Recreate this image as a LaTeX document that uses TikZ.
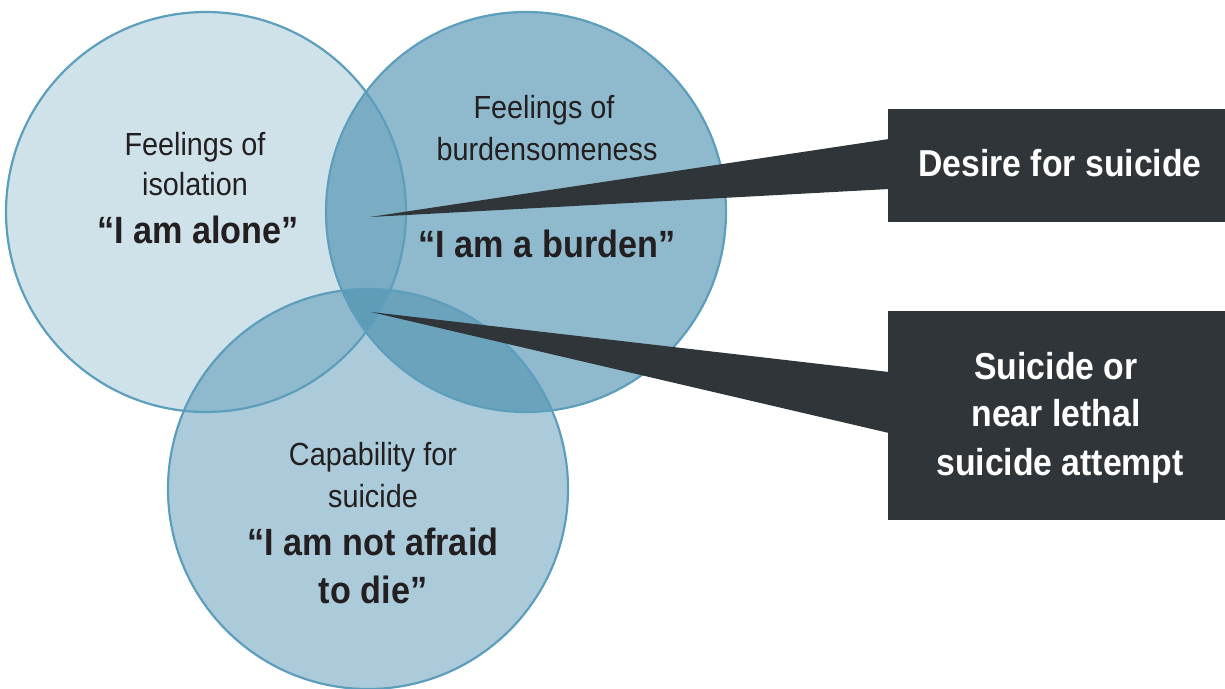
\documentclass[tikz,border=0pt]{standalone}
\usepackage{fontspec}
\setmainfont{Liberation Sans}[FakeStretch=0.9]
\definecolor{basecol}{RGB}{56,132,166}
\definecolor{edgecol}{RGB}{92,158,188}
\definecolor{darkbox}{RGB}{47,53,56}
\definecolor{txt}{RGB}{35,31,32}
\begin{document}
\begin{tikzpicture}[x=1pt,y=-1pt,
  venn/.style={circle,minimum size=400pt,inner sep=0pt,draw=edgecol,line width=2.2pt},
  small/.style={font=\fontsize{32}{40}\selectfont,text=txt,align=center,inner sep=0pt},
  big/.style={font=\fontsize{38}{48}\selectfont\bfseries,text=txt,align=center,inner sep=0pt},
  boxtxt/.style={font=\fontsize{37.5}{47}\selectfont\bfseries,text=white,align=center,inner sep=0pt},
  darkrect/.style={rectangle,fill=darkbox,inner sep=0pt,minimum width=337pt}
]
\useasboundingbox (0,0) rectangle (1225,688);
% circle fills
\fill[basecol,fill opacity=0.245] (206,212) circle (200);
\fill[basecol,fill opacity=0.5625] (526,212) circle (200);
\fill[basecol,fill opacity=0.42] (368,489) circle (200);
% circle outlines as nodes
\node[venn] (iso) at (206,212) {};
\node[venn] (bur) at (526,212) {};
\node[venn] (cap) at (368,489) {};
% boxes
\node[darkrect,minimum height=113pt] (desire) at (1056.5,165.5) {};
\node[darkrect,minimum height=209pt] (attempt) at (1056.5,415.5) {};
% wedges
\coordinate (tip1) at (370,217);
\coordinate (tip2) at (371,312);
\coordinate (w1a) at (889,139);
\coordinate (w1b) at (889,189);
\coordinate (w2a) at (889,372);
\coordinate (w2b) at (889,433);
\fill[darkbox] (tip1) -- (w1a) -- (w1b) -- cycle;
\fill[darkbox] (tip2) -- (w2a) -- (w2b) -- cycle;
% texts
\node[small,anchor=base] (t1a) at (195,155) {Feelings of};
\node[small,anchor=base] (t1b) at (195,195) {isolation};
\node[big,anchor=base] (t1c) at (198,243) {“I am alone”};
\node[small,anchor=base] (t2a) at (544,118) {Feelings of};
\node[small,anchor=base] (t2b) at (547,160) {burdensomeness};
\node[big,anchor=base] (t2c) at (547,257) {“I am a burden”};
\node[small,anchor=base] (t3a) at (373,465) {Capability for};
\node[small,anchor=base] (t3b) at (373,507) {suicide};
\node[big,anchor=base] (t3c) at (373,555) {“I am not afraid};
\node[big,anchor=base] (t3d) at (373,603) {to die”};
\node[boxtxt,anchor=base] (d1) at (1060,176) {Desire for suicide};
\node[boxtxt,anchor=base] (a1) at (1056,379) {Suicide or};
\node[boxtxt,anchor=base] (a2) at (1056,426) {near lethal};
\node[boxtxt,anchor=base] (a3) at (1060,475) {suicide attempt};
\end{tikzpicture}
\end{document}
